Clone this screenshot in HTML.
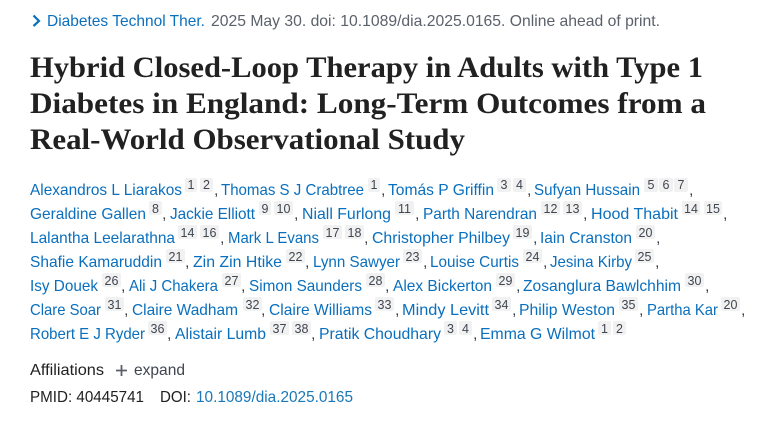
<!DOCTYPE html>
<html lang="en">
<head>
<meta charset="utf-8">
<title>Hybrid Closed-Loop Therapy in Adults with Type 1 Diabetes in England</title>
<style>
html,body{margin:0;padding:0;background:#fff;width:771px;height:435px;overflow:hidden}
svg{display:block}
text{font-family:"Liberation Sans",sans-serif;font-size:16px}
.t{font-family:"Liberation Serif",serif;font-size:30px;font-weight:700;fill:#212121}
.a{fill:#0a6fbd}
.c{fill:#3f4650}
.s{font-size:12.5px;fill:#3f4650;text-anchor:middle}
.r{fill:#f1f1f1}
.g{fill:#5b616b}
.d{fill:#212121}
</style>
</head>
<body>
<svg width="771" height="435" viewBox="0 0 771 435" xmlns="http://www.w3.org/2000/svg">
<path d="M33.5 15.5L39 21L33.5 26" fill="none" stroke="#0a6fbd" stroke-width="2.2"/>
<text class="a" x="47" y="26" textLength="158" lengthAdjust="spacingAndGlyphs">Diabetes Technol Ther.</text>
<text class="g" x="211" y="26" textLength="449" lengthAdjust="spacingAndGlyphs">2025 May 30. doi: 10.1089/dia.2025.0165. Online ahead of print.</text>

<text class="t" x="30" y="77" textLength="673" lengthAdjust="spacingAndGlyphs">Hybrid Closed-Loop Therapy in Adults with Type 1</text>
<text class="t" x="30" y="113" textLength="676" lengthAdjust="spacingAndGlyphs">Diabetes in England: Long-Term Outcomes from a</text>
<text class="t" x="30" y="149" textLength="435" lengthAdjust="spacingAndGlyphs">Real-World Observational Study</text>

<!-- line 1 -->
<text class="a" x="30" y="195" textLength="152" lengthAdjust="spacingAndGlyphs">Alexandros L Liarakos</text>
<rect class="r" x="185" y="178" width="12" height="14" rx="2"/><text class="s" x="191" y="189">1</text>
<rect class="r" x="200" y="178" width="13" height="14" rx="2"/><text class="s" x="206.5" y="189">2</text>
<text class="c" x="214" y="195">,</text>
<text class="a" x="221" y="195" textLength="143" lengthAdjust="spacingAndGlyphs">Thomas S J Crabtree</text>
<rect class="r" x="368" y="178" width="12" height="14" rx="2"/><text class="s" x="374" y="189">1</text>
<text class="c" x="381" y="195">,</text>
<text class="a" x="388" y="195" textLength="106" lengthAdjust="spacingAndGlyphs">Tomás P Griffin</text>
<rect class="r" x="497" y="178" width="14" height="14" rx="2"/><text class="s" x="504" y="189">3</text>
<rect class="r" x="513" y="178" width="13" height="14" rx="2"/><text class="s" x="519.5" y="189">4</text>
<text class="c" x="527" y="195">,</text>
<text class="a" x="534" y="195" textLength="106" lengthAdjust="spacingAndGlyphs">Sufyan Hussain</text>
<rect class="r" x="644" y="178" width="14" height="14" rx="2"/><text class="s" x="651" y="189">5</text>
<rect class="r" x="659" y="178" width="14" height="14" rx="2"/><text class="s" x="666" y="189">6</text>
<rect class="r" x="674" y="178" width="14" height="14" rx="2"/><text class="s" x="681" y="189">7</text>
<text class="c" x="689" y="195">,</text>

<!-- line 2 -->
<text class="a" x="30" y="219" textLength="116" lengthAdjust="spacingAndGlyphs">Geraldine Gallen</text>
<rect class="r" x="149" y="201" width="13" height="14" rx="2"/><text class="s" x="155.500" y="213">8</text>
<text class="c" x="162" y="219">,</text>
<text class="a" x="170" y="219" textLength="85" lengthAdjust="spacingAndGlyphs">Jackie Elliott</text>
<rect class="r" x="259" y="201" width="12" height="14" rx="2"/><text class="s" x="265" y="213">9</text>
<rect class="r" x="274" y="201" width="19" height="14" rx="2"/><text class="s" x="283.500" y="213">10</text>
<text class="c" x="294" y="219">,</text>
<text class="a" x="302" y="219" textLength="89" lengthAdjust="spacingAndGlyphs">Niall Furlong</text>
<rect class="r" x="395" y="201" width="19" height="14" rx="2"/><text class="s" x="404.500" y="213">11</text>
<text class="c" x="415" y="219">,</text>
<text class="a" x="423" y="219" textLength="114" lengthAdjust="spacingAndGlyphs">Parth Narendran</text>
<rect class="r" x="541" y="201" width="19" height="14" rx="2"/><text class="s" x="550.500" y="213">12</text>
<rect class="r" x="563" y="201" width="19" height="14" rx="2"/><text class="s" x="572.500" y="213">13</text>
<text class="c" x="583" y="219">,</text>
<text class="a" x="591" y="219" textLength="87" lengthAdjust="spacingAndGlyphs">Hood Thabit</text>
<rect class="r" x="682" y="201" width="18" height="14" rx="2"/><text class="s" x="691" y="213">14</text>
<rect class="r" x="704" y="201" width="18" height="14" rx="2"/><text class="s" x="713" y="213">15</text>
<text class="c" x="723" y="219">,</text>

<!-- line 3 -->
<text class="a" x="30" y="243" textLength="145" lengthAdjust="spacingAndGlyphs">Lalantha Leelarathna</text>
<rect class="r" x="178" y="225" width="19" height="14" rx="2"/><text class="s" x="187.500" y="237">14</text>
<rect class="r" x="200" y="225" width="19" height="14" rx="2"/><text class="s" x="209.500" y="237">16</text>
<text class="c" x="220" y="243">,</text>
<text class="a" x="228" y="243" textLength="91" lengthAdjust="spacingAndGlyphs">Mark L Evans</text>
<rect class="r" x="323" y="225" width="19" height="14" rx="2"/><text class="s" x="332.500" y="237">17</text>
<rect class="r" x="345" y="225" width="19" height="14" rx="2"/><text class="s" x="354.500" y="237">18</text>
<text class="c" x="364" y="243">,</text>
<text class="a" x="372" y="243" textLength="138" lengthAdjust="spacingAndGlyphs">Christopher Philbey</text>
<rect class="r" x="513" y="225" width="19" height="14" rx="2"/><text class="s" x="522.500" y="237">19</text>
<text class="c" x="533" y="243">,</text>
<text class="a" x="540" y="243" textLength="92" lengthAdjust="spacingAndGlyphs">Iain Cranston</text>
<rect class="r" x="636" y="225" width="19" height="14" rx="2"/><text class="s" x="645.500" y="237">20</text>
<text class="c" x="656" y="243">,</text>

<!-- line 4 -->
<text class="a" x="30" y="267" textLength="132" lengthAdjust="spacingAndGlyphs">Shafie Kamaruddin</text>
<rect class="r" x="166" y="249" width="19" height="14" rx="2"/><text class="s" x="175.500" y="261">21</text>
<text class="c" x="185" y="267">,</text>
<text class="a" x="193" y="267" textLength="89" lengthAdjust="spacingAndGlyphs">Zin Zin Htike</text>
<rect class="r" x="286" y="249" width="19" height="14" rx="2"/><text class="s" x="295.500" y="261">22</text>
<text class="c" x="305" y="267">,</text>
<text class="a" x="313" y="267" textLength="87" lengthAdjust="spacingAndGlyphs">Lynn Sawyer</text>
<rect class="r" x="403" y="249" width="19" height="14" rx="2"/><text class="s" x="412.500" y="261">23</text>
<text class="c" x="423" y="267">,</text>
<text class="a" x="430" y="267" textLength="89" lengthAdjust="spacingAndGlyphs">Louise Curtis</text>
<rect class="r" x="523" y="249" width="19" height="14" rx="2"/><text class="s" x="532.500" y="261">24</text>
<text class="c" x="543" y="267">,</text>
<text class="a" x="550" y="267" textLength="82" lengthAdjust="spacingAndGlyphs">Jesina Kirby</text>
<rect class="r" x="635" y="249" width="19" height="14" rx="2"/><text class="s" x="644.500" y="261">25</text>
<text class="c" x="655" y="267">,</text>

<!-- line 5 -->
<text class="a" x="30" y="291" textLength="68" lengthAdjust="spacingAndGlyphs">Isy Douek</text>
<rect class="r" x="102" y="273" width="19" height="14" rx="2"/><text class="s" x="111.500" y="285">26</text>
<text class="c" x="121" y="291">,</text>
<text class="a" x="129" y="291" textLength="89" lengthAdjust="spacingAndGlyphs">Ali J Chakera</text>
<rect class="r" x="222" y="273" width="19" height="14" rx="2"/><text class="s" x="231.500" y="285">27</text>
<text class="c" x="241" y="291">,</text>
<text class="a" x="249" y="291" textLength="113" lengthAdjust="spacingAndGlyphs">Simon Saunders</text>
<rect class="r" x="366" y="273" width="19" height="14" rx="2"/><text class="s" x="375.500" y="285">28</text>
<text class="c" x="385" y="291">,</text>
<text class="a" x="393" y="291" textLength="99" lengthAdjust="spacingAndGlyphs">Alex Bickerton</text>
<rect class="r" x="496" y="273" width="19" height="14" rx="2"/><text class="s" x="505.500" y="285">29</text>
<text class="c" x="516" y="291">,</text>
<text class="a" x="523" y="291" textLength="158" lengthAdjust="spacingAndGlyphs">Zosanglura Bawlchhim</text>
<rect class="r" x="685" y="273" width="19" height="14" rx="2"/><text class="s" x="694.500" y="285">30</text>
<text class="c" x="705" y="291">,</text>

<!-- line 6 -->
<text class="a" x="30" y="315" textLength="71" lengthAdjust="spacingAndGlyphs">Clare Soar</text>
<rect class="r" x="105" y="297" width="19" height="14" rx="2"/><text class="s" x="114.500" y="309">31</text>
<text class="c" x="124" y="315">,</text>
<text class="a" x="132" y="315" textLength="106" lengthAdjust="spacingAndGlyphs">Claire Wadham</text>
<rect class="r" x="243" y="297" width="19" height="14" rx="2"/><text class="s" x="252.500" y="309">32</text>
<text class="c" x="261" y="315">,</text>
<text class="a" x="269" y="315" textLength="103" lengthAdjust="spacingAndGlyphs">Claire Williams</text>
<rect class="r" x="375" y="297" width="19" height="14" rx="2"/><text class="s" x="384.500" y="309">33</text>
<text class="c" x="395" y="315">,</text>
<text class="a" x="402" y="315" textLength="87" lengthAdjust="spacingAndGlyphs">Mindy Levitt</text>
<rect class="r" x="492" y="297" width="19" height="14" rx="2"/><text class="s" x="501.500" y="309">34</text>
<text class="c" x="512" y="315">,</text>
<text class="a" x="519" y="315" textLength="96" lengthAdjust="spacingAndGlyphs">Philip Weston</text>
<rect class="r" x="619" y="297" width="19" height="14" rx="2"/><text class="s" x="628.500" y="309">35</text>
<text class="c" x="639" y="315">,</text>
<text class="a" x="647" y="315" textLength="71" lengthAdjust="spacingAndGlyphs">Partha Kar</text>
<rect class="r" x="721" y="297" width="19" height="14" rx="2"/><text class="s" x="730.500" y="309">20</text>
<text class="c" x="741" y="315">,</text>

<!-- line 7 -->
<text class="a" x="30" y="339" textLength="115" lengthAdjust="spacingAndGlyphs">Robert E J Ryder</text>
<rect class="r" x="148" y="321" width="19" height="14" rx="2"/><text class="s" x="157.500" y="333">36</text>
<text class="c" x="167" y="339">,</text>
<text class="a" x="175" y="339" textLength="91" lengthAdjust="spacingAndGlyphs">Alistair Lumb</text>
<rect class="r" x="270" y="321" width="19" height="14" rx="2"/><text class="s" x="279.500" y="333">37</text>
<rect class="r" x="292" y="321" width="19" height="14" rx="2"/><text class="s" x="301.500" y="333">38</text>
<text class="c" x="311" y="339">,</text>
<text class="a" x="319" y="339" textLength="122" lengthAdjust="spacingAndGlyphs">Pratik Choudhary</text>
<rect class="r" x="444" y="321" width="13" height="14" rx="2"/><text class="s" x="450.500" y="333">3</text>
<rect class="r" x="459" y="321" width="13" height="14" rx="2"/><text class="s" x="465.500" y="333">4</text>
<text class="c" x="473" y="339">,</text>
<text class="a" x="480" y="339" textLength="115" lengthAdjust="spacingAndGlyphs">Emma G Wilmot</text>
<rect class="r" x="598" y="321" width="13" height="14" rx="2"/><text class="s" x="604.500" y="333">1</text>
<rect class="r" x="613" y="321" width="13" height="14" rx="2"/><text class="s" x="619.500" y="333">2</text>

<!-- footer -->
<text class="d" x="30" y="375" textLength="74" lengthAdjust="spacingAndGlyphs">Affiliations</text>
<path d="M116 370.500H127M121.500 365V376" stroke="#5b5f66" stroke-width="1.8" fill="none"/>
<text class="c" x="134" y="375" textLength="51" lengthAdjust="spacingAndGlyphs">expand</text>
<text class="d" x="30" y="402" textLength="114" lengthAdjust="spacingAndGlyphs">PMID: 40445741</text>
<text class="d" x="160" y="402" textLength="31" lengthAdjust="spacingAndGlyphs">DOI:</text>
<text fill="#1a78b8" x="196" y="402" textLength="157" lengthAdjust="spacingAndGlyphs">10.1089/dia.2025.0165</text>
</svg>
</body>
</html>
